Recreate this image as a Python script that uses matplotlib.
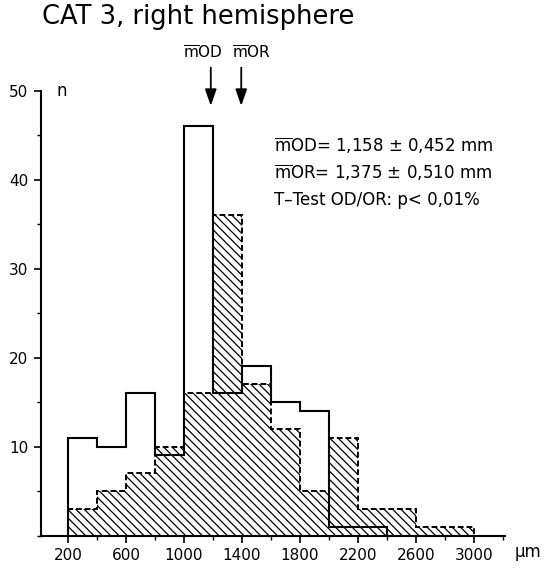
import numpy as np
import matplotlib
matplotlib.use('Agg')
import matplotlib.pyplot as plt
from matplotlib.ticker import MultipleLocator, FixedLocator

# 数据：柱宽 200 µm 的直方图（OD 空心，OR 斜线填充）
edges = [200, 400, 600, 800, 1000, 1200, 1400, 1600, 1800, 2000, 2200, 2400, 2600, 2800, 3000]
od_counts = [11, 10, 16, 9, 46, 16, 19, 15, 14, 1, 1, 0, 0, 0]
or_counts = [3, 5, 7, 10, 16, 36, 17, 12, 5, 11, 3, 3, 1, 1]
arrow_x = [1185, 1395]
arrow_labels = ['$\\overline{\\mathrm{m}}$OD', '$\\overline{\\mathrm{m}}$OR']
x_ticks = [200, 600, 1000, 1400, 1800, 2200, 2600, 3000]
y_ticks = [10, 20, 30, 40, 50]
stats_lines = ['$\\overline{\\mathrm{m}}$OD= 1,158 ± 0,452 mm',
               '$\\overline{\\mathrm{m}}$OR= 1,375 ± 0,510 mm',
               'T\u2013Test OD/OR: p< 0,01%']

plt.rcParams['font.family'] = ['DejaVu Sans']
plt.rcParams['mathtext.fontset'] = 'dejavusans'
plt.rcParams['hatch.linewidth'] = 0.9

fig = plt.figure(figsize=(5.46, 5.72), dpi=100)
ax = fig.add_axes([0.075, 0.0638, 0.85, 0.7776])

# OR：斜线填充 + 虚线轮廓
ax.stairs(or_counts, edges, fill=True, facecolor='none', edgecolor='black',
          hatch='\\\\\\\\', linestyle=(0, (3, 1.5)), linewidth=1.4)
# OD：实线阶梯轮廓
ax.stairs(od_counts, edges, color='black', linewidth=1.5)

ax.set_xlim(14, 3214)
ax.set_ylim(0, 50)
for s in ['top', 'right']:
    ax.spines[s].set_visible(False)
for s in ['left', 'bottom']:
    ax.spines[s].set_linewidth(1.5)

ax.xaxis.set_major_locator(FixedLocator(x_ticks))
ax.xaxis.set_minor_locator(MultipleLocator(200))
ax.yaxis.set_major_locator(FixedLocator(y_ticks))
ax.yaxis.set_minor_locator(MultipleLocator(5))
ax.tick_params(axis='both', which='major', direction='out', length=5, width=1.2,
               labelsize=11, pad=4)
ax.tick_params(axis='both', which='minor', direction='out', length=3, width=1.0)
ax.set_xticklabels([str(v) for v in x_ticks])
ax.set_yticklabels([str(v) for v in y_ticks])

ax.text(158, 50, 'n', fontsize=12, ha='center', va='center')
fig.text(528 / 546, 1 - 552 / 572, '\u03bcm', fontsize=12, ha='center', va='center')

# 均值箭头
for xv in arrow_x:
    ax.annotate('', xy=(xv, 48.3), xytext=(xv, 52.6),
                arrowprops=dict(arrowstyle='-|>,head_length=1.0,head_width=0.35',
                                color='black', lw=1.3, shrinkA=0, shrinkB=0),
                annotation_clip=False)
ax.text(995, 54.2, arrow_labels[0], fontsize=11, ha='left', va='center', clip_on=False)
ax.text(1330, 54.2, arrow_labels[1], fontsize=11, ha='left', va='center', clip_on=False)

for i, line in enumerate(stats_lines):
    ax.text(1620, 43.8 - i * 3.05, line, fontsize=12, ha='left', va='center')

fig.text(42 / 546, 1 - 24 / 572, 'CAT 3, right hemisphere', fontsize=18.5,
         ha='left', va='baseline')

fig.savefig('out.png', dpi=100)
